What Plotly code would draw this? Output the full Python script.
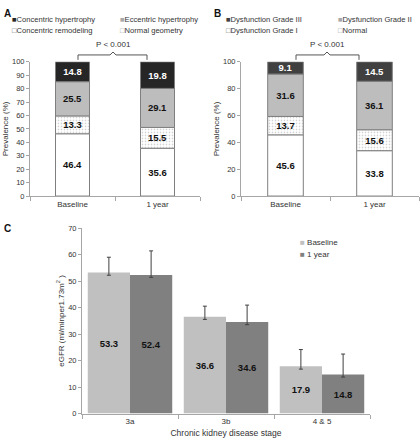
import plotly.graph_objects as go

# ---------------- data ----------------
time_points = ["Baseline", "1 year"]

lvh_names = ["Normal geometry", "Concentric remodeling", "Eccentric hypertrophy", "Concentric hypertrophy"]
lvh_normal = [46.4, 35.6]
lvh_remodel = [13.3, 15.5]
lvh_eccentric = [25.5, 29.1]
lvh_concentric = [14.8, 19.8]

dd_names = ["Normal", "Dysfunction Grade I", "Dysfunction Grade II", "Dysfunction Grade III"]
dd_normal = [45.6, 33.8]
dd_grade1 = [13.7, 15.6]
dd_grade2 = [31.6, 36.1]
dd_grade3 = [9.1, 14.5]

ckd_stages = ["3a", "3b", "4 & 5"]
egfr_names = ["Baseline", "1 year"]
egfr_baseline = [53.3, 36.6, 17.9]
egfr_1year = [52.4, 34.6, 14.8]
egfr_baseline_err_up = [5.8, 4.0, 6.3]
egfr_baseline_err_down = [1.0, 1.0, 1.1]
egfr_1year_err_up = [9.1, 6.4, 7.7]
egfr_1year_err_down = [0.9, 1.0, 1.0]

p_text = "P < 0.001"

# ---------------- style ----------------
W, H = 420, 447
FONT = "Liberation Sans, Arial, sans-serif"
TXT = "#333333"
AX = "#a6a6a6"
OUT = "#7f7f7f"

seg_styles = [
    dict(color="white", pattern=None, text="#111111"),
    dict(color="white", pattern=dict(shape=".", fgcolor="#9a9a9a", bgcolor="white", size=3, solidity=0.25), text="#111111"),
    dict(color="#bdbdbd", pattern=None, text="#111111"),
]

fig = go.Figure()


def add_stack(values_list, names, xa, ya, top_color, group):
    base = [0.0] * len(time_points)
    for i, (vals, name) in enumerate(zip(values_list, names)):
        st = seg_styles[i] if i < 3 else dict(color=top_color, pattern=None, text="white")
        marker = dict(color=st["color"], line=dict(color=OUT, width=1))
        if st["pattern"]:
            marker["pattern"] = st["pattern"]
        fig.add_trace(go.Bar(
            x=time_points, y=vals, base=list(base), name=name, xaxis=xa, yaxis=ya,
            offsetgroup=group, width=0.4,
            marker=marker, showlegend=False,
            text=[f"{v:.1f}" for v in vals], textposition="inside",
            insidetextanchor="middle", constraintext="none",
            textfont=dict(family=FONT, size=9.5, color=st["text"], weight="bold"),
            hoverinfo="skip",
        ))
        base = [b + v for b, v in zip(base, vals)]


add_stack([lvh_normal, lvh_remodel, lvh_eccentric, lvh_concentric], lvh_names, "x", "y", "#262626", "a")
add_stack([dd_normal, dd_grade1, dd_grade2, dd_grade3], dd_names, "x2", "y2", "#404040", "b")

for k, (vals, up, dn, name, col) in enumerate([
    (egfr_baseline, egfr_baseline_err_up, egfr_baseline_err_down, egfr_names[0], "#c0c0c0"),
    (egfr_1year, egfr_1year_err_up, egfr_1year_err_down, egfr_names[1], "#808080"),
]):
    fig.add_trace(go.Bar(
        x=ckd_stages, y=vals, name=name, xaxis="x3", yaxis="y3", offsetgroup=f"c{k}",
        marker=dict(color=col, line=dict(width=0)), showlegend=False,
        text=[f"{v:.1f}" for v in vals], textposition="inside",
        insidetextanchor="middle", constraintext="none",
        textfont=dict(family=FONT, size=9.5, color="#111111", weight="bold"),
        error_y=dict(type="data", symmetric=False, array=up, arrayminus=dn,
                     color="#404040", thickness=1, width=2),
        hoverinfo="skip",
    ))


def px_x(p):
    return p / W


def px_y(p):
    return 1 - p / H


tickfont = dict(family=FONT, size=7.5, color=TXT)
common_x = dict(type="category", showline=True, linecolor=AX, linewidth=1,
                ticks="outside", tickson="boundaries", ticklen=4, tickcolor=AX,
                tickfont=dict(family=FONT, size=8, color=TXT), fixedrange=True)
common_y = dict(showline=True, linecolor=AX, linewidth=1, ticks="outside",
                ticklen=3, tickcolor=AX, showgrid=False, zeroline=False,
                tickfont=tickfont, fixedrange=True)

fig.update_layout(
    width=W, height=H, margin=dict(l=0, r=0, t=0, b=0),
    paper_bgcolor="white", plot_bgcolor="white",
    barmode="group", bargap=0.12, bargroupgap=0.0,
    font=dict(family=FONT, color=TXT),
    xaxis=dict(domain=[px_x(30), px_x(200)], anchor="y", **common_x),
    yaxis=dict(domain=[px_y(196), px_y(59)], anchor="x", range=[0, 100], dtick=10,
               title=dict(text="Prevalence (%)", font=dict(family=FONT, size=8, color=TXT), standoff=2),
               **common_y),
    xaxis2=dict(domain=[px_x(241), px_x(419)], anchor="y2", **common_x),
    yaxis2=dict(domain=[px_y(196), px_y(59)], anchor="x2", range=[0, 100], dtick=20,
                title=dict(text="Prevalence (%)", font=dict(family=FONT, size=8, color=TXT), standoff=2),
                **common_y),
    xaxis3=dict(domain=[px_x(82), px_x(370)], anchor="y3",
                title=dict(text="Chronic kidney disease stage", font=dict(family=FONT, size=8.5, color=TXT), standoff=4),
                **common_x),
    yaxis3=dict(domain=[px_y(418), px_y(229)], anchor="x3", range=[0, 70], dtick=10,
                title=dict(text="eGFR (ml/minper1.73m<sup>2</sup> )", font=dict(family=FONT, size=8, color=TXT), standoff=2),
                **common_y),
)

annotations = []
# panel letters
for letter, x, y in [("A", 2, 2), ("B", 212, 2), ("C", 2, 221)]:
    annotations.append(dict(text=f"<b>{letter}</b>", x=px_x(x), y=px_y(y), xref="paper", yref="paper",
                            xanchor="left", yanchor="top", showarrow=False,
                            font=dict(family=FONT, size=10, color="#111111")))

# legends (annotation based)
lvh_legend = [
    (lvh_names[3], "■", "#262626", 10, 16),
    (lvh_names[2], "■", "#a8a8a8", 118, 16),
    (lvh_names[1], "□", "#666666", 10, 27),
    (lvh_names[0], "□", "#9a9a9a", 118, 27),
]
dd_legend = [
    (dd_names[3], "■", "#404040", 224, 16),
    (dd_names[2], "■", "#a8a8a8", 336, 16),
    (dd_names[1], "□", "#666666", 224, 27),
    (dd_names[0], "□", "#9a9a9a", 336, 27),
]
for name, sym, col, x, y in lvh_legend + dd_legend:
    annotations.append(dict(text=f"<span style='color:{col}'>{sym}</span>{name}", x=px_x(x), y=px_y(y),
                            xref="paper", yref="paper", xanchor="left", yanchor="middle", showarrow=False,
                            font=dict(family=FONT, size=7.6, color=TXT)))
for name, col, y in [(egfr_names[0], "#c0c0c0", 243), (egfr_names[1], "#808080", 256)]:
    annotations.append(dict(text=f"<span style='color:{col}'>■</span> {name}", x=px_x(298), y=px_y(y),
                            xref="paper", yref="paper", xanchor="left", yanchor="middle", showarrow=False,
                            font=dict(family=FONT, size=8, color=TXT)))

# p-values
for cx in [113, 327]:
    annotations.append(dict(text=p_text, x=px_x(cx), y=px_y(41), xref="paper", yref="paper",
                            xanchor="center", yanchor="middle", showarrow=False,
                            font=dict(family=FONT, size=8, color=TXT)))
fig.update_layout(annotations=annotations)

# brackets
shapes = []
for x0, xm, x1 in [(78, 113, 147), (296, 327, 359)]:
    path = (f"M {px_x(x0)},{px_y(57)} L {px_x(x0)},{px_y(52)} L {px_x(xm-3)},{px_y(52)} "
            f"L {px_x(xm)},{px_y(49)} L {px_x(xm+3)},{px_y(52)} L {px_x(x1)},{px_y(52)} L {px_x(x1)},{px_y(57)}")
    shapes.append(dict(type="path", path=path, xref="paper", yref="paper",
                       line=dict(color="#555555", width=1)))
fig.update_layout(shapes=shapes)

fig.write_html("out.html", config={"displayModeBar": False},
               post_script="document.body.style.margin='0';")
